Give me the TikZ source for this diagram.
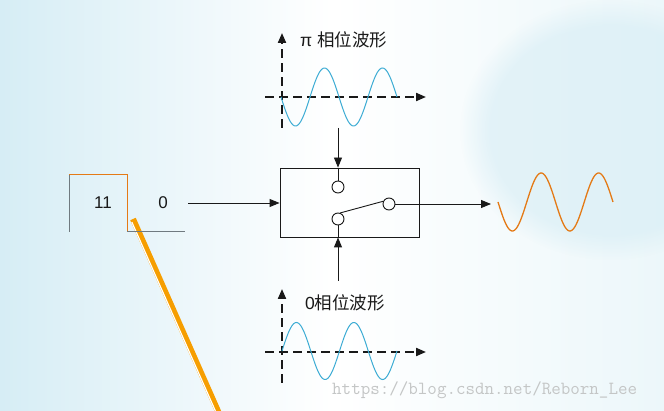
\documentclass[tikz,border=0pt]{standalone}
\usepackage{fontspec}
\setmainfont{Liberation Sans}
\newfontfamily\cjk{Noto Sans CJK SC}
\usetikzlibrary{arrows.meta,fadings}
\definecolor{wavec}{RGB}{60,172,212}
\definecolor{orng}{RGB}{228,122,22}
\definecolor{stick}{RGB}{246,158,0}
\definecolor{bgblue}{RGB}{214,237,245}
\definecolor{bglite}{RGB}{236,247,250}
\definecolor{wmc}{RGB}{196,198,198}
\definecolor{grayln}{RGB}{112,122,128}
\definecolor{ink}{RGB}{25,25,25}
\begin{document}
\begin{tikzpicture}[x=1pt,y=-1pt,
  arr/.style={-{Triangle[length=10pt,width=8pt]}, line width=0.9pt, draw=ink},
  axisln/.style={dash pattern=on 9pt off 5pt, line width=2pt, draw=ink, -{Triangle[length=10pt,width=8pt]}},
  sine/.style={line width=1pt, draw=wavec},
  pin/.style={circle, draw=ink, line width=0.9pt, minimum size=12pt, inner sep=0pt},
  lbl/.style={text=ink, inner sep=0pt, font=\cjk\fontsize{17.5}{17.5}\selectfont, anchor=west},
  bit/.style={text=ink, inner sep=0pt, font=\fontsize{17}{17}\selectfont}]
% background
\useasboundingbox (0,0) rectangle (664,411);
\shade[left color=bgblue, right color=bglite, middle color=white] (0,0) rectangle (664,411);
\begin{scope}
\clip (0,0) rectangle (664,411);
\fill[bgblue, opacity=0.6, path fading=circle with fuzzy edge 20 percent] (610,130) ellipse[x radius=150, y radius=130];
\end{scope}
% watermark
\node[text=wmc, inner sep=0pt, anchor=west, font=\ttfamily\fontsize{18.5}{18.5}\selectfont] (wm) at (332,390) {https://blog.csdn.net/Reborn\_Lee};

% pointer stick
\draw[stick, line width=6pt] (133,219) -- (221,418);
\draw[white, line width=1.2pt] (131.8,222) -- (219.4,420);

% input bit pattern
\coordinate (p1) at (69,232);
\coordinate (p2) at (69,175);
\coordinate (p3) at (127,175);
\coordinate (p4) at (127,232);
\coordinate (p5) at (185,232);
\draw[grayln, line width=1pt] (p1) -- (p2);
\draw[orng, line width=1pt] (p2) -- (p3) -- (p4);
\draw[grayln, line width=1pt] (p4) -- (p5);
\node[bit] (b11) at (103,203) {11};
\node[bit] (b0) at (163,203) {0};

% switch box
\node[draw=ink, line width=0.9pt, minimum width=139pt, minimum height=69pt, inner sep=0pt] (sw) at (349.5,202.5) {};
\node[pin] (c1) at (338,187) {};
\node[pin] (c2) at (338,219) {};
\node[pin] (c3) at (389,204) {};
\draw[ink, line width=0.9pt] (c2.70) -- (c3.155);

% input arrow
\coordinate (inp) at (188,203);
\draw[arr] (inp) -- (sw.west |- inp);

% top waveform (pi phase)
\coordinate (tv0) at (282,128);
\coordinate (tv1) at (282,33);
\coordinate (th0) at (265,97);
\coordinate (th1) at (426,97);
\draw[axisln] (tv0) -- (tv1);
\draw[axisln] (th0) -- (th1);
\draw[sine] plot[domain=281:397, samples=120] (\x, {97 + 29*sin((\x-281)/58*360)});
\node[lbl] (tl) at (300,40) {\fontspec{Liberation Sans}π\ \cjk 相位波形};

% bottom waveform (0 phase)
\coordinate (bv0) at (282,383);
\coordinate (bv1) at (282,289);
\coordinate (bh0) at (265,352);
\coordinate (bh1) at (426,352);
\draw[axisln] (bv0) -- (bv1);
\draw[axisln] (bh0) -- (bh1);
\draw[sine] plot[domain=282:397, samples=120] (\x, {351 - 28.5*sin((\x-282)/57.5*360)});
\node[lbl] (bl) at (305,303) {\fontspec{Liberation Sans}0\cjk 相位波形};

% carrier feeds into switch
\coordinate (ta) at (338,128);
\draw[arr] (ta) -- (sw.north -| c1);
\draw[ink, line width=0.9pt] (sw.north -| c1) -- (c1.north);
\coordinate (ba) at (338,281);
\draw[arr] (ba) -- (sw.south -| c2);
\draw[ink, line width=0.9pt] (sw.south -| c2) -- (c2.south);

% output
\coordinate (outa) at (491,204);
\draw[arr] (c3.east) -- (outa);
\draw[orng, line width=1.3pt] plot[domain=498:613, samples=120] (\x, {202 + 29*sin((\x-498)/57.5*360)});
\end{tikzpicture}
\end{document}
